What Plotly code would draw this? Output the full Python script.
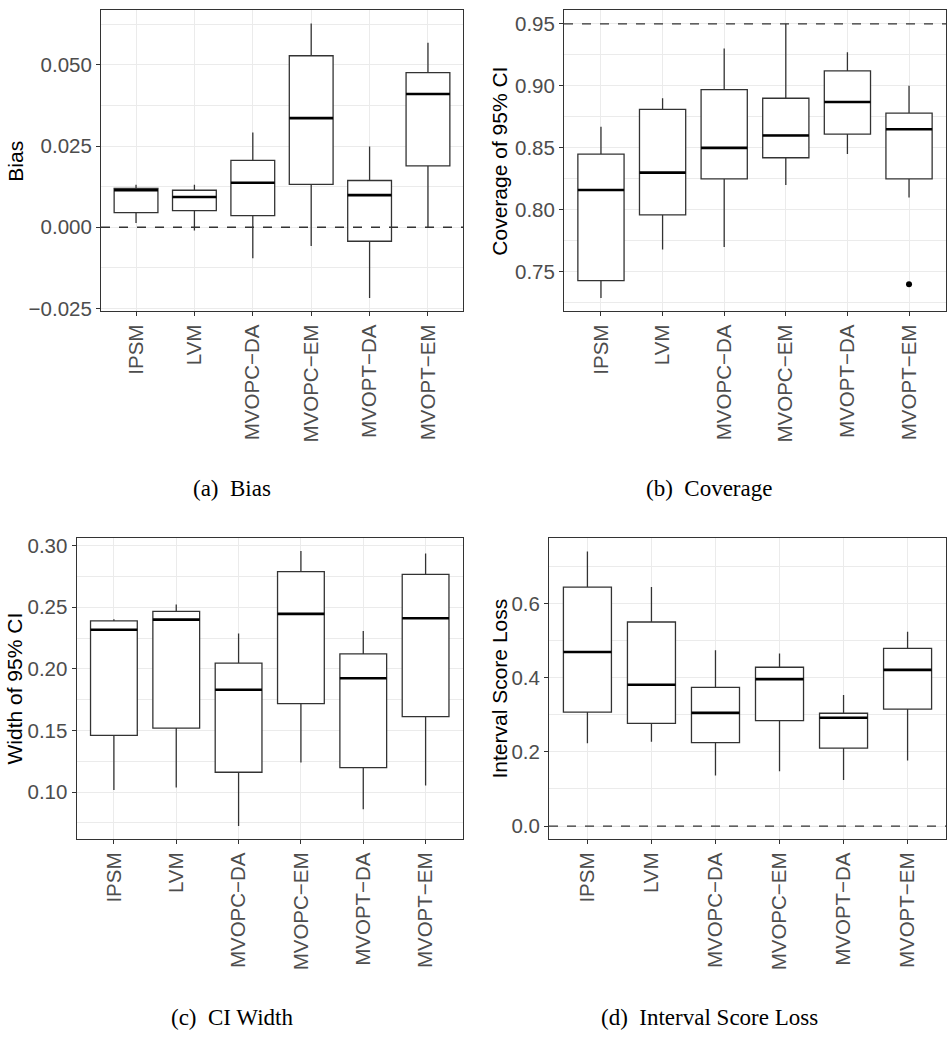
import plotly.graph_objects as go

methods = ["IPSM", "LVM", "MVOPC\u2212DA", "MVOPC\u2212EM", "MVOPT\u2212DA", "MVOPT\u2212EM"]

# (a) Bias
bias_low = [0.0013, -0.0010, -0.0095, -0.0058, -0.0218, 0.0000]
bias_q1 = [0.0045, 0.0051, 0.0036, 0.0132, -0.0043, 0.0189]
bias_med = [0.0114, 0.0093, 0.0137, 0.0336, 0.0099, 0.0410]
bias_q3 = [0.0120, 0.0114, 0.0206, 0.0528, 0.0144, 0.0476]
bias_high = [0.0131, 0.0131, 0.0292, 0.0627, 0.0249, 0.0568]

# (b) Coverage
cov_low = [0.729, 0.768, 0.770, 0.820, 0.845, 0.810]
cov_q1 = [0.743, 0.796, 0.825, 0.842, 0.861, 0.825]
cov_med = [0.816, 0.830, 0.850, 0.860, 0.887, 0.865]
cov_q3 = [0.845, 0.881, 0.897, 0.890, 0.912, 0.878]
cov_high = [0.867, 0.890, 0.930, 0.950, 0.927, 0.900]
cov_outlier_method = [5]
cov_outlier_value = [0.740]

# (c) CI Width
wid_low = [0.1016, 0.1037, 0.0724, 0.1241, 0.0861, 0.1053]
wid_q1 = [0.1460, 0.1519, 0.1161, 0.1718, 0.1198, 0.1613]
wid_med = [0.2317, 0.2400, 0.1830, 0.2446, 0.1924, 0.2411]
wid_q3 = [0.2390, 0.2467, 0.2047, 0.2789, 0.2122, 0.2767]
wid_high = [0.2403, 0.2523, 0.2288, 0.2957, 0.2307, 0.2936]

# (d) Interval Score Loss
isl_low = [0.223, 0.227, 0.136, 0.148, 0.124, 0.177]
isl_q1 = [0.307, 0.277, 0.225, 0.284, 0.210, 0.315]
isl_med = [0.469, 0.381, 0.305, 0.396, 0.292, 0.421]
isl_q3 = [0.644, 0.550, 0.374, 0.428, 0.304, 0.479]
isl_high = [0.740, 0.644, 0.474, 0.465, 0.353, 0.524]

ref_lines = {"a": 0.0, "b": 0.95, "d": 0.0}
captions = ["(a)\u2002Bias", "(b)\u2002Coverage", "(c)\u2002CI Width", "(d)\u2002Interval Score Loss"]
ytitles = ["Bias", "Coverage of 95% CI", "Width of 95% CI", "Interval Score Loss"]

W, H = 947, 1041
def px_x(v):
    return v / W
def px_y(v):
    return 1 - v / H

panels = [
    dict(stats=(bias_low, bias_q1, bias_med, bias_q3, bias_high), xdom=(101, 463), ydom=(6, 311),
         yrange=[-0.0259, 0.0669], dtick=0.025, fmt=".3f", ref="a", tx=16, cap=(232, 490)),
    dict(stats=(cov_low, cov_q1, cov_med, cov_q3, cov_high), xdom=(564, 946), ydom=(6, 311),
         yrange=[0.7181, 0.9612], dtick=0.05, fmt=".2f", ref="b", tx=500, cap=(709, 490)),
    dict(stats=(wid_low, wid_q1, wid_med, wid_q3, wid_high), xdom=(76.5, 463), ydom=(540, 845),
         yrange=[0.0617, 0.3064], dtick=0.05, fmt=".2f", ref=None, tx=15, cap=(232, 1025)),
    dict(stats=(isl_low, isl_q1, isl_med, isl_q3, isl_high), xdom=(549, 946), ydom=(540, 845),
         yrange=[-0.0356, 0.777], dtick=0.2, fmt=".1f", ref="d", tx=500, cap=(709, 1025)),
]

fig = go.Figure()
layout = dict(width=W, height=H, margin=dict(l=0, r=0, t=0, b=0), plot_bgcolor="white",
              paper_bgcolor="white", showlegend=False, shapes=[], annotations=[])
font_family = "Liberation Sans, Arial, sans-serif"
grid = "#EBEBEB"
dark = "#333333"
pos = list(range(len(methods)))
half = 0.375

for k, p in enumerate(panels):
    sfx = "" if k == 0 else str(k + 1)
    xa, ya = "x" + sfx, "y" + sfx
    low, q1, med, q3, high = p["stats"]
    fig.add_trace(go.Box(x=pos, q1=q1, median=med, q3=q3, lowerfence=low, upperfence=high,
                         width=0.75, fillcolor="white", line=dict(color=dark, width=1.3),
                         whiskerwidth=0, boxpoints=False, hoverinfo="skip", xaxis=xa, yaxis=ya))
    mx, my = [], []
    for i, m in zip(pos, med):
        mx += [i - half, i + half, None]
        my += [m, m, None]
    fig.add_trace(go.Scatter(x=mx, y=my, mode="lines", line=dict(color="black", width=2.6),
                             hoverinfo="skip", xaxis=xa, yaxis=ya))
    if k == 1:
        fig.add_trace(go.Scatter(x=cov_outlier_method, y=cov_outlier_value, mode="markers",
                                 marker=dict(color="black", size=6), hoverinfo="skip",
                                 xaxis=xa, yaxis=ya))
    layout["xaxis" + sfx] = dict(
        domain=[px_x(p["xdom"][0]), px_x(p["xdom"][1])], anchor=ya, range=[-0.6, 5.6],
        tickmode="array", tickvals=pos, ticktext=methods, tickangle=-90,
        tickfont=dict(family=font_family, size=20.5, color="#4D4D4D"),
        ticks="outside", ticklen=4, tickcolor=dark, showgrid=True, gridcolor=grid, gridwidth=1,
        showline=True, linecolor=dark, linewidth=1, mirror=True, zeroline=False, fixedrange=True)
    layout["yaxis" + sfx] = dict(
        domain=[px_y(p["ydom"][1]), px_y(p["ydom"][0])], anchor=xa, range=p["yrange"],
        tick0=0, dtick=p["dtick"], tickformat=p["fmt"],
        tickfont=dict(family=font_family, size=20.5, color="#4D4D4D"),
        ticks="outside", ticklen=4, tickcolor=dark, showgrid=True, gridcolor=grid, gridwidth=1,
        minor=dict(dtick=p["dtick"] / 2, tick0=0, showgrid=True, gridcolor=grid, gridwidth=0.5, ticks=""),
        showline=True, linecolor=dark, linewidth=1, mirror=True, zeroline=False, fixedrange=True)
    if p["ref"] is not None:
        layout["shapes"].append(dict(type="line", xref=xa + " domain", yref=ya, x0=0, x1=1,
                                     y0=ref_lines[p["ref"]], y1=ref_lines[p["ref"]],
                                     line=dict(color=dark, width=1.3, dash="dash"), layer="above"))
    yc = (p["ydom"][0] + p["ydom"][1]) / 2
    layout["annotations"].append(dict(text=ytitles[k], textangle=-90, xref="paper", yref="paper",
                                      x=px_x(p["tx"]), y=px_y(yc), showarrow=False,
                                      xanchor="center", yanchor="middle",
                                      font=dict(family=font_family, size=21, color="black")))
    layout["annotations"].append(dict(text=captions[k], xref="paper", yref="paper",
                                      x=px_x(p["cap"][0]), y=px_y(p["cap"][1]), showarrow=False,
                                      xanchor="center", yanchor="middle",
                                      font=dict(family="Liberation Serif, serif", size=23, color="black")))

fig.update_layout(**layout)
fig.write_html("out.html", config={"responsive": False, "displayModeBar": False},
               post_script="document.body.style.margin='0';document.body.style.overflow='hidden';")
